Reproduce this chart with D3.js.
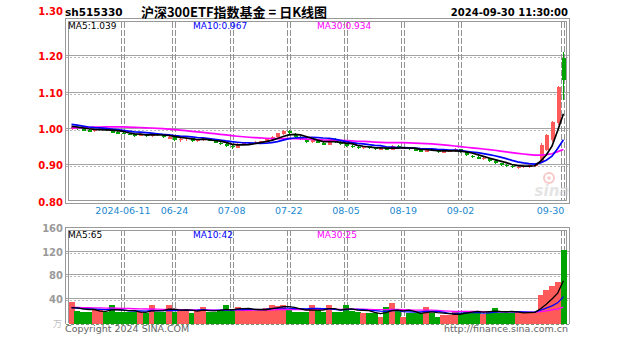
<!DOCTYPE html>
<html><head><meta charset="utf-8">
<script src="https://cdn.jsdelivr.net/npm/d3@7"></script>
<style>body{margin:0;background:#fff;} svg{display:block;}</style>
</head><body>
<svg id="c" width="627" height="342"></svg>
<script>
const dates = ["2024-05-28","2024-05-29","2024-05-30","2024-05-31","2024-06-03","2024-06-04","2024-06-05","2024-06-06","2024-06-07","2024-06-11",
"2024-06-12","2024-06-13","2024-06-14","2024-06-17","2024-06-18","2024-06-19","2024-06-20","2024-06-21","2024-06-24","2024-06-25",
"2024-06-26","2024-06-27","2024-06-28","2024-07-01","2024-07-02","2024-07-03","2024-07-04","2024-07-05","2024-07-08","2024-07-09",
"2024-07-10","2024-07-11","2024-07-12","2024-07-15","2024-07-16","2024-07-17","2024-07-18","2024-07-19","2024-07-22","2024-07-23",
"2024-07-24","2024-07-25","2024-07-26","2024-07-29","2024-07-30","2024-07-31","2024-08-01","2024-08-02","2024-08-05","2024-08-06",
"2024-08-07","2024-08-08","2024-08-09","2024-08-12","2024-08-13","2024-08-14","2024-08-15","2024-08-16","2024-08-19","2024-08-20",
"2024-08-21","2024-08-22","2024-08-23","2024-08-26","2024-08-27","2024-08-28","2024-08-29","2024-08-30","2024-09-02","2024-09-03",
"2024-09-04","2024-09-05","2024-09-06","2024-09-09","2024-09-10","2024-09-11","2024-09-12","2024-09-13","2024-09-18","2024-09-19",
"2024-09-20","2024-09-23","2024-09-24","2024-09-25","2024-09-26","2024-09-27","2024-09-30"];

const open  = [0.999,1.005,1.000,0.996,0.994,0.998,1.001,0.997,0.991,0.989,
0.987,0.985,0.981,0.985,0.980,0.987,0.983,0.973,0.978,0.969,
0.972,0.974,0.966,0.969,0.973,0.967,0.962,0.958,0.953,0.948,
0.957,0.958,0.961,0.962,0.965,0.970,0.978,0.987,0.994,0.987,
0.976,0.972,0.963,0.968,0.962,0.956,0.972,0.965,0.958,0.953,
0.951,0.947,0.952,0.948,0.945,0.947,0.942,0.953,0.947,0.949,
0.944,0.941,0.936,0.945,0.940,0.935,0.938,0.939,0.944,0.935,
0.926,0.922,0.917,0.920,0.912,0.905,0.901,0.898,0.892,0.895,
0.896,0.899,0.909,0.942,0.969,1.016,1.195];
const high  = [1.009,1.007,1.002,0.999,1.001,1.004,1.003,0.999,0.994,0.992,
0.989,0.987,0.988,0.987,0.990,0.989,0.985,0.981,0.980,0.975,
0.977,0.976,0.972,0.976,0.975,0.969,0.965,0.961,0.955,0.962,
0.963,0.964,0.967,0.968,0.973,0.980,0.990,0.996,0.998,0.989,
0.980,0.975,0.972,0.970,0.964,0.975,0.974,0.967,0.960,0.956,
0.953,0.954,0.954,0.950,0.949,0.949,0.956,0.955,0.951,0.950,
0.946,0.943,0.948,0.946,0.941,0.940,0.942,0.947,0.945,0.937,
0.929,0.924,0.922,0.921,0.914,0.907,0.904,0.900,0.898,0.900,
0.902,0.906,0.960,0.986,1.022,1.118,1.212];
const low   = [0.997,0.998,0.993,0.992,0.992,0.996,0.995,0.988,0.987,0.985,
0.982,0.979,0.980,0.979,0.979,0.981,0.976,0.971,0.968,0.965,
0.968,0.964,0.963,0.966,0.966,0.960,0.956,0.951,0.946,0.947,
0.955,0.956,0.958,0.960,0.963,0.968,0.976,0.984,0.985,0.975,
0.970,0.962,0.962,0.960,0.955,0.955,0.962,0.956,0.950,0.948,
0.946,0.946,0.946,0.943,0.943,0.941,0.941,0.946,0.945,0.942,
0.939,0.935,0.935,0.938,0.934,0.933,0.935,0.937,0.933,0.925,
0.920,0.916,0.915,0.910,0.903,0.899,0.896,0.892,0.889,0.891,
0.893,0.896,0.906,0.940,0.965,1.012,1.080];
const close = [1.006,1.000,0.995,0.994,0.999,1.002,0.997,0.990,0.989,0.987,
0.984,0.981,0.986,0.981,0.988,0.983,0.978,0.979,0.970,0.973,
0.975,0.966,0.970,0.974,0.968,0.962,0.958,0.953,0.949,0.958,
0.961,0.962,0.965,0.966,0.971,0.978,0.988,0.993,0.988,0.977,
0.972,0.965,0.969,0.962,0.957,0.972,0.965,0.958,0.953,0.950,
0.948,0.952,0.948,0.945,0.947,0.943,0.953,0.948,0.949,0.944,
0.941,0.937,0.945,0.940,0.936,0.938,0.940,0.944,0.935,0.927,
0.922,0.918,0.920,0.912,0.905,0.901,0.898,0.894,0.896,0.898,
0.900,0.904,0.956,0.983,1.019,1.115,1.135];
const volume = [35,19,18,17,21,21,18,30,18,17,
18,17,18,16,30,18,18,30,18,21,
20,16,22,26,17,18,20,30,22,26,
20,22,20,22,24,30,28,30,22,18,
18,18,30,21,18,30,18,18,30,20,
18,16,16,16,10,26,33,20,9,16,
16,16,26,16,10,12,12,20,16,20,
20,18,14,20,25,16,16,16,17,17,
18,18,46,55,62,68,122];

// closes and volumes of the 29 sessions before the first candle (used only by the moving averages)
const preCloses = [0.972,0.975,0.980,0.982,0.985,0.981,0.987,0.991,0.993,0.998,1.000,1.003,1.006,1.004,1.009,
1.012,1.008,1.015,1.018,1.016,1.020,1.022,1.019,1.015,1.013,1.010,1.008,1.005,1.007];
const preVolumes = [24,26,22,28,25,23,27,30,26,24,28,25,22,27,29,31,26,24,28,22,25,27,23,26,24,22,25,23,21];

const priceTicks = [1.20,1.10,1.00,0.90];
const priceLabels = ["1.30","1.20","1.10","1.00","0.90","0.80"];
const volTicks = [120,80,40];
const volLabels = ["160","120","80","40"];
const tickDates = ["2024-06-11","2024-06-24","2024-07-08","2024-07-22","2024-08-05","2024-08-19","2024-09-02","2024-09-30"];
const tickLabels = ["2024-06-11","06-24","07-08","07-22","08-05","08-19","09-02","09-30"];
const maTexts = ["MA5:1.039","MA10:0.967","MA30:0.934"];
const volMaTexts = ["MA5:65","MA10:42","MA30:25"];

const svg = d3.select("#c");
const L = 65.5, R = 569;
const x = d3.scaleBand().domain(dates).range([68.64, 566.28]).padding(0);
const cx = d => x(d) + x.bandwidth()/2;
const y = d3.scaleLinear().domain([0.80, 1.30]).range([201.5, 20]);
const yv = d3.scaleLinear().domain([0, 160]).range([322.5, 228]);

function hline(yy, x1, x2, dash, col, w) {
  svg.append("line").attr("x1", x1).attr("x2", x2).attr("y1", yy).attr("y2", yy)
    .attr("stroke", col).attr("stroke-width", w || 1)
    .attr("stroke-dasharray", dash || null).attr("shape-rendering", "crispEdges");
}
function vline(xx, y1, y2, dash, col, w) {
  svg.append("line").attr("x1", xx).attr("x2", xx).attr("y1", y1).attr("y2", y2)
    .attr("stroke", col).attr("stroke-width", w || 1)
    .attr("stroke-dasharray", dash || null).attr("shape-rendering", "crispEdges");
}

// ---------- grids ----------
const G1 = "#a4a4a4", G2 = "#b8b8b8";
priceTicks.forEach(t => { hline(Math.round(y(t)) - 0.5, L, R, null, G1); hline(Math.round(y(t)) + 1.5, L, R, "2,2", G2); });
volTicks.forEach(t => { hline(Math.round(yv(t)) - 0.5, L, R, null, G1); hline(Math.round(yv(t)) + 1.5, L, R, "2,2", G2); });
tickDates.forEach(d => {
  const xx = Math.round(cx(d)) - 1.5;
  [xx, xx + 3].forEach(v => {
    vline(v, 22, 200, "6,2", "#929292", 1);
    vline(v, 230, 323, "6,2", "#929292", 1);
  });
});

// ---------- frames ----------
const FR = "#999999";
hline(18.5, L - 0.5, R + 0.5, null, FR); hline(21, 68, 566.5, null, FR);
hline(200.5, 68, 566.5, null, FR); hline(203, L - 0.5, R + 0.5, null, FR);
vline(65.5, 18.5, 203, null, FR); vline(68.5, 21, 200.5, null, FR);
vline(566.5, 21, 200.5, null, FR); vline(569, 18.5, 203, null, FR);
hline(227.5, L - 0.5, R + 0.5, null, FR); hline(230, 68, 566.5, null, FR);
vline(65.5, 227.5, 324, null, FR); vline(68.5, 230, 323, null, FR);
vline(566.5, 230, 323, null, FR); vline(569, 227.5, 324, null, FR);
hline(324.5, L, R, "3,2", "#6f9a6f");

// ---------- sina watermark ----------
const wm = svg.append("g").attr("opacity", 0.55);
wm.append("circle").attr("cx", 549).attr("cy", 178).attr("r", 5).attr("fill", "none").attr("stroke", "#f2a0a0").attr("stroke-width", 2);
wm.append("circle").attr("cx", 549).attr("cy", 178).attr("r", 1.8).attr("fill", "#f2a0a0");
wm.append("text").attr("x", 552).attr("y", 196).attr("text-anchor", "middle")
  .attr("font-family", "DejaVu Sans").attr("font-weight", "bold").attr("font-style", "italic")
  .attr("font-size", 15).attr("fill", "#cfcfcf").text("sina");

// ---------- candles ----------
const UP = "#ff5a5a", DN = "#00a400";
const bodyW = 4;
const cg = svg.append("g").attr("shape-rendering", "crispEdges");
dates.forEach((d, i) => {
  const up = close[i] >= open[i];
  const col = up ? UP : DN;
  const xc = Math.round(cx(d));
  cg.append("line").attr("x1", xc + 0.5).attr("x2", xc + 0.5).attr("y1", y(high[i])).attr("y2", y(low[i]))
    .attr("stroke", col).attr("stroke-width", 1);
  const top = y(Math.max(open[i], close[i])), bot = y(Math.min(open[i], close[i]));
  cg.append("rect").attr("x", xc - bodyW / 2 + 0.5).attr("width", bodyW).attr("y", top)
    .attr("height", Math.max(1.5, bot - top)).attr("fill", col);
});

// ---------- moving averages ----------
function movingAvg(pre, series, n) {
  const all = pre.concat(series), off = pre.length;
  return series.map((_, i) => d3.mean(all.slice(off + i - n + 1, off + i + 1)));
}
const lineP = d3.line().x((v, i) => cx(dates[i])).y(v => y(v));
const lineV = d3.line().x((v, i) => cx(dates[i])).y(v => yv(v));
const maCols = ["#000000", "#0000ff", "#ff00ff"];
[30, 10, 5].forEach((n, k) => {
  svg.append("path").attr("d", lineP(movingAvg(preCloses, close, n))).attr("fill", "none")
    .attr("stroke", maCols[2 - k]).attr("stroke-width", 1.7);
});

// ---------- volume ----------
const vg = svg.append("g").attr("shape-rendering", "crispEdges");
dates.forEach((d, i) => {
  const up = close[i] >= open[i];
  vg.append("rect").attr("x", x(d)).attr("width", x.bandwidth() + 0.3)
    .attr("y", yv(volume[i])).attr("height", yv(0) - yv(volume[i]) + 1)
    .attr("fill", up ? UP : DN);
});
[30, 10, 5].forEach((n, k) => {
  svg.append("path").attr("d", lineV(movingAvg(preVolumes, volume, n))).attr("fill", "none")
    .attr("stroke", maCols[2 - k]).attr("stroke-width", 1.3);
});

// ---------- texts ----------
const F = "DejaVu Sans";
function txt(s, xx, yy, o) {
  o = o || {};
  return svg.append("text").attr("x", xx).attr("y", yy).text(s)
    .attr("font-family", o.ff || F).attr("font-size", o.fs || 9)
    .attr("font-weight", o.fw || "normal").attr("fill", o.fill || "#000")
    .attr("text-anchor", o.anchor || "start");
}
txt("sh515330", 65, 16, { fs: 10.5, fw: "bold" });
txt("沪深300ETF指数基金 = 日K线图", 234, 17, { fs: 13, fw: "bold", anchor: "middle", ff: "Noto Sans CJK SC" });
txt("2024-09-30 11:30:00", 568, 16, { fs: 10, fw: "bold", anchor: "end" });

const priceLabelY = [15, y(1.20) + 4, y(1.10) + 4, y(1.00) + 4, y(0.90) + 4, y(0.80) + 4];
priceLabels.forEach((s, i) => txt(s, 63, priceLabelY[i], { fs: 10, fw: "bold", fill: "#ff0000", anchor: "end" }));
const volLabelY = [yv(160) + 4, yv(120) + 4, yv(80) + 4, yv(40) + 4];
volLabels.forEach((s, i) => txt(s, 63, volLabelY[i], { fs: 10, fw: "bold", fill: "#9a9a9a", anchor: "end" }));
txt("万", 62, 327, { fs: 9, fill: "#c0c0c0", anchor: "end", ff: "Noto Sans CJK SC" });

tickDates.forEach((d, i) => {
  const last = i === tickDates.length - 1;
  txt(tickLabels[i], last ? cx(d) + 1 : cx(d), 214, { fs: 9.5, fill: "#1a88d0", anchor: last ? "end" : "middle" });
});

const maX = [68, 193, 317];
maTexts.forEach((s, i) => txt(s, maX[i], 29, { fs: 9, fill: maCols[i] }));
volMaTexts.forEach((s, i) => txt(s, maX[i], 238, { fs: 9, fill: maCols[i] }));

txt("Copyright 2024 SINA.COM", 65, 332, { fs: 9.5, fill: "#666" });
txt("http://finance.sina.com.cn", 568, 332, { fs: 9.5, fill: "#666", anchor: "end" });
</script>
</body></html>
